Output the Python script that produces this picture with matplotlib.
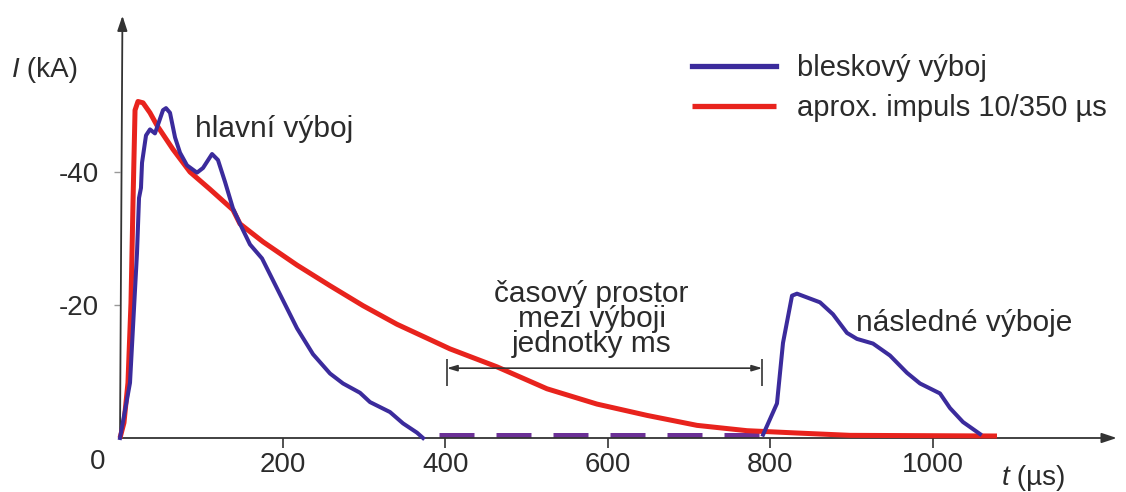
import matplotlib
matplotlib.use("Agg")
import matplotlib.pyplot as plt
import numpy as np

plt.rcParams['font.family'] = ['Liberation Sans', 'DejaVu Sans']
plt.rcParams['axes.unicode_minus'] = False

# ---- data (t in µs, I in kA, negative current) ----
blue_main_t = [0, 12.3, 20.9, 23.4, 25.8, 27.1, 32.0, 36.9, 43.0, 46.7, 52.9, 56.6,
               61.5, 67.7, 73.8, 82.4, 94.7, 102.1, 113.2, 120.5, 129.2, 139.0,
               147.6, 159.9, 174.7, 196.8, 217.7, 237.4, 258.3, 274.3, 295.2,
               307.5, 332.1, 348.1, 365.3, 372.7]
blue_main_i = [0, -8.3, -27.8, -36.1, -37.6, -41.4, -45.5, -46.4, -45.8, -47.1, -49.3, -49.6,
               -48.9, -45.2, -42.9, -41.0, -39.9, -40.6, -42.7, -41.8, -38.5, -34.5,
               -32.2, -29.1, -27.0, -21.6, -16.5, -12.6, -9.7, -8.2, -6.8,
               -5.4, -3.9, -2.2, -0.8, 0]

blue_next_t = [791, 808.1, 815.5, 826.6, 832.7, 861.0, 877.0, 894.2, 906.5, 926.2,
               947.1, 968.0, 984.0, 1008.6, 1020.9, 1036.9, 1057.8]
blue_next_i = [-0.5, -5.2, -14.3, -21.4, -21.7, -20.4, -18.6, -15.8, -14.9, -14.2,
               -12.4, -9.8, -8.2, -6.7, -4.5, -2.4, -0.6]

gap_t = [392, 791]
gap_i = [-0.5, -0.5]

red_t = [0, 4.9, 9.8, 13.5, 16.0, 18.5, 22.1, 28.3, 36.9, 45.5, 65.2, 86.1, 110.7,
         139.0, 147.6, 175.9, 217.7, 258.3, 298.9, 340.7, 381.3, 405.9, 463.7,
         525.2, 586.7, 648.2, 709.7, 771.2, 832.7, 897.9, 1078.7]
red_i = [0, -2.3, -8.3, -20.3, -35.4, -49.3, -50.6, -50.4, -48.9, -47.0, -43.4, -40.0, -37.4,
         -34.3, -32.2, -29.5, -26.0, -22.9, -19.9, -17.1, -14.8, -13.4, -10.7,
         -7.4, -5.1, -3.4, -1.9, -1.1, -0.75, -0.4, -0.3]

x_ticks = [200, 400, 600, 800, 1000]
x_tick_labels = ["200", "400", "600", "800", "1000"]
y_ticks = [-40, -20]
y_tick_labels = ["-40", "-20"]

series_labels = ["bleskový výboj", "aprox. impuls 10/350 µs"]

BLUE = '#3b2b9c'
RED = '#e8231d'
DASH = '#6b3096'
TXT = '#2b2b2b'

fig = plt.figure(figsize=(11.26, 4.92), dpi=100)
ax = fig.add_axes([0, 0, 1, 1])
ax.set_xlim(-147.6, 1237.4)
ax.set_ylim(8.12, -65.86)
ax.patch.set_visible(False)

# axes with arrows
ax.annotate('', xy=(1226, 0), xytext=(0, 0),
            arrowprops=dict(arrowstyle='-|>,head_length=0.9,head_width=0.3',
                            color='#333333', lw=1.3, shrinkA=0, shrinkB=0))
ax.annotate('', xy=(3, -63.5), xytext=(0, 0),
            arrowprops=dict(arrowstyle='-|>,head_length=0.9,head_width=0.3',
                            color='#333333', lw=1.3, shrinkA=0, shrinkB=0))

ax.spines['bottom'].set_position(('data', 0))
ax.spines['left'].set_position(('data', 0))
for s in ax.spines.values():
    s.set_visible(False)
ax.xaxis.set_ticks_position('bottom')
ax.yaxis.set_ticks_position('left')
ax.set_xticks(x_ticks)
ax.set_xticklabels(x_tick_labels)
ax.set_yticks(y_ticks)
ax.set_yticklabels(y_tick_labels)
ax.tick_params(axis='x', direction='out', length=7, width=1.2, color='#333333',
               labelsize=20, labelcolor=TXT, pad=3)
ax.tick_params(axis='y', direction='out', length=4, width=1.0, color='#999999',
               labelsize=20, labelcolor=TXT, pad=11)

# curves
ax.plot(red_t, red_i, color=RED, lw=3.6, solid_capstyle='butt', solid_joinstyle='round',
        label=series_labels[1], zorder=3)
ax.plot(blue_main_t, blue_main_i, color=BLUE, lw=2.9, solid_joinstyle='round',
        label=series_labels[0], zorder=4)
ax.plot(blue_next_t, blue_next_i, color=BLUE, lw=2.9, solid_joinstyle='round', zorder=4)
ax.plot(gap_t, gap_i, color=DASH, lw=3.6, linestyle=(0, (7.0, 4.4)),
        dash_capstyle='butt', zorder=2)

# bracket for the time gap
ax.annotate('', xy=(402, -10.5), xytext=(790, -10.5),
            arrowprops=dict(arrowstyle='<|-|>,head_length=0.6,head_width=0.18',
                            color='#333333', lw=1.2, shrinkA=0, shrinkB=0))
ax.vlines([402, 790], -11.9, -7.8, color='#333333', lw=1.2)

# texts
ax.text(-28, 3.6, "0", fontsize=20, color=TXT, ha='center', va='center')
ax.text(-133, -55.3, "I", fontsize=20, color=TXT, ha='left', va='center', style='italic')
ax.text(-124, -55.3, " (kA)", fontsize=20, color=TXT, ha='left', va='center')
ax.text(1085, 6.0, "t", fontsize=20, color=TXT, ha='left', va='center', style='italic')
ax.text(1093, 6.0, " (µs)", fontsize=20, color=TXT, ha='left', va='center')
ax.text(92, -46.5, "hlavní výboj", fontsize=21.5, color=TXT, ha='left', va='center')
ax.text(1038, -17.3, "následné výboje", fontsize=21.5, color=TXT, ha='center', va='center')
ax.text(580, -17.9, "časový prostor\nmezi výboji\njednotky ms", fontsize=21.5, color=TXT,
        ha='center', va='center', linespacing=0.88)

leg = ax.legend(handles=ax.get_lines()[1:2] + ax.get_lines()[0:1],
                labels=series_labels, loc='upper left', bbox_to_anchor=(0.615, 0.89),
                frameon=False, fontsize=21, handlelength=2.85, handletextpad=0.72,
                labelspacing=0.40, borderpad=0, borderaxespad=0)
for t in leg.get_texts():
    t.set_color(TXT)
for h in leg.legend_handles:
    h.set_linewidth(3.8)

fig.savefig('out.png', dpi=100, facecolor='white')
